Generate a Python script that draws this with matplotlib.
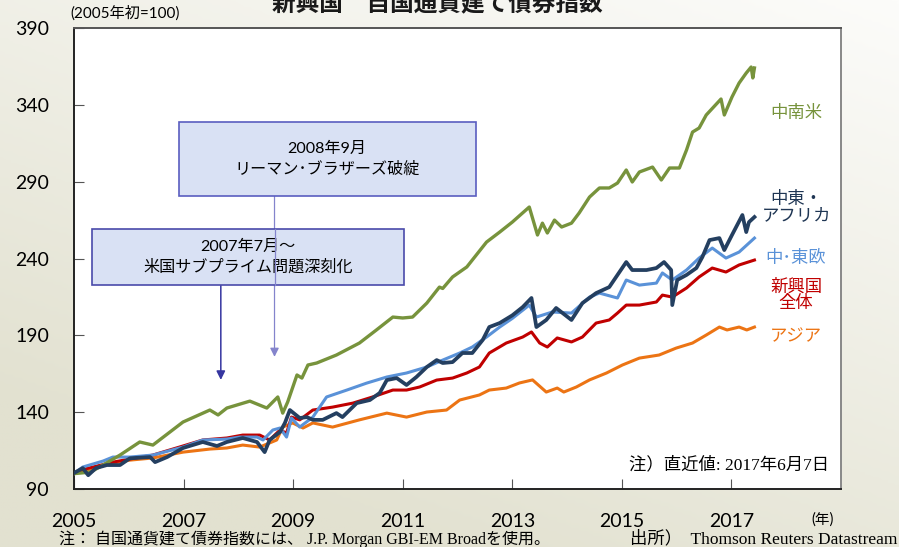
import numpy as np
import matplotlib
matplotlib.use("Agg")
import matplotlib.pyplot as plt
from matplotlib.patches import Rectangle
from matplotlib.colors import LinearSegmentedColormap

# index values (2005 start = 100)
latam_x = [2005.0, 2005.3, 2005.5, 2005.84, 2006.2, 2006.44, 2006.99, 2007.48, 2007.63, 2007.79,
           2008.21, 2008.52, 2008.72, 2008.81, 2008.9, 2009.07, 2009.16, 2009.27, 2009.43, 2009.79,
           2010.21, 2010.52, 2010.82, 2011.0, 2011.18, 2011.44, 2011.67, 2011.73, 2011.91, 2012.17,
           2012.53, 2012.77, 2013.0, 2013.31, 2013.46, 2013.55, 2013.64, 2013.77, 2013.9, 2014.08,
           2014.22, 2014.41, 2014.59, 2014.77, 2014.92, 2015.08, 2015.19, 2015.32, 2015.56, 2015.72,
           2015.87, 2016.05, 2016.18, 2016.29, 2016.41, 2016.54, 2016.81, 2016.87, 2017.01, 2017.14,
           2017.27, 2017.36, 2017.39, 2017.42]
latam_y = [100, 101, 105, 112.1, 120.6, 118.6, 133.6, 141.4, 138.2, 142.7,
           147.2, 142.7, 149.9, 139.4, 146.6, 164.2, 162.2, 170.7, 172, 177.2,
           185, 193.5, 201.9, 201.3, 201.9, 211, 221.4, 220.5, 228, 234.5,
           250.7, 257.2, 263.7, 273.5, 255.3, 263, 256.6, 265, 260.5, 263,
           269.6, 280, 285.9, 285.9, 289.1, 297.6, 289.8, 296.3, 299.5, 291.1,
           298.9, 298.9, 310.6, 322.3, 324.9, 333.4, 343.8, 333.4, 345.1, 354.2,
           360.7, 364.6, 357.5, 364]

mea_x = [2005.0, 2005.16, 2005.26, 2005.4, 2005.6, 2005.84, 2006.02, 2006.39, 2006.48, 2006.7,
         2006.99, 2007.35, 2007.61, 2007.79, 2008.08, 2008.34, 2008.48, 2008.57, 2008.76, 2008.85,
         2008.94, 2009.12, 2009.25, 2009.36, 2009.54, 2009.79, 2009.9, 2010.16, 2010.4, 2010.58,
         2010.71, 2010.89, 2011.07, 2011.25, 2011.44, 2011.62, 2011.73, 2011.91, 2012.09, 2012.27,
         2012.46, 2012.58, 2012.77, 2013.0, 2013.19, 2013.35, 2013.44, 2013.62, 2013.8, 2014.08,
         2014.28, 2014.53, 2014.77, 2014.92, 2015.08, 2015.19, 2015.45, 2015.63, 2015.77, 2015.9,
         2015.92, 2016.01, 2016.18, 2016.36, 2016.47, 2016.6, 2016.78, 2016.87, 2017.01, 2017.2,
         2017.27, 2017.32, 2017.42]
mea_y = [100.4, 103.6, 99, 103.6, 105.6, 105.6, 110, 110.8, 107.5, 110.8,
         116.7, 120.6, 118, 120.6, 123.2, 120.6, 114, 121.9, 127.1, 133,
         141.4, 136.2, 136.8, 135, 135, 139.4, 136.8, 145.9, 147.9, 152.5,
         160.9, 162.2, 157.7, 162.9, 169.4, 173.9, 172, 172.6, 178.5, 178.5,
         187, 195.4, 198, 203, 208.4, 214.3, 195.4, 200, 207.8, 200,
         211, 217.5, 221.4, 229.3, 237.7, 232.5, 232.5, 233.8, 237.7, 232.5,
         209.7, 226, 229.3, 233.8, 241, 252, 253.3, 245.5, 255.3, 268.3,
         257.2, 263.7, 267]

cee_x = [2005.0, 2005.16, 2005.53, 2005.71, 2006.02, 2006.44, 2006.99, 2007.35, 2007.79, 2008.03,
         2008.34, 2008.45, 2008.63, 2008.76, 2008.88, 2008.97, 2009.12, 2009.36, 2009.61, 2009.98,
         2010.34, 2010.71, 2011.07, 2011.44, 2011.73, 2012.04, 2012.27, 2012.53, 2012.77, 2013.0,
         2013.31, 2013.44, 2013.73, 2014.08, 2014.41, 2014.59, 2014.92, 2015.08, 2015.32, 2015.63,
         2015.74, 2015.92, 2016.18, 2016.41, 2016.65, 2016.9, 2017.14, 2017.42]
cee_y = [100, 104.3, 108.2, 110.8, 110.8, 112.1, 117.3, 121.9, 122.5, 123.8,
         123.8, 121.9, 128.4, 129.7, 123.8, 136.2, 130.3, 136.8, 149.9, 154.4,
         158.9, 162.9, 165.5, 169.4, 173.9, 178.5, 182.4, 188.9, 195.4, 201,
         209.7, 201.9, 205.2, 204.5, 214.9, 217.5, 214.3, 226, 222.7, 224,
         230.6, 226, 232.5, 240.3, 246.8, 240.3, 244.2, 253.3]

em_x = [2005.0, 2005.2, 2005.71, 2006.02, 2006.44, 2006.99, 2007.35, 2007.79, 2008.08, 2008.39,
        2008.57, 2008.76, 2008.88, 2008.97, 2009.12, 2009.36, 2009.72, 2010.09, 2010.45, 2010.82,
        2011.07, 2011.31, 2011.62, 2011.91, 2012.17, 2012.4, 2012.58, 2012.89, 2013.19, 2013.35,
        2013.5, 2013.64, 2013.82, 2014.08, 2014.28, 2014.53, 2014.77, 2014.92, 2015.08, 2015.32,
        2015.63, 2015.74, 2015.92, 2016.18, 2016.41, 2016.65, 2016.9, 2017.14, 2017.42]
em_y = [100, 103, 107.5, 109.5, 112.1, 118, 121.9, 123.2, 125.1, 125.1,
        121.9, 128.4, 126.4, 136.8, 135, 141.4, 143.3, 145.9, 149.9, 154.4,
        154.4, 156.4, 160.9, 162.2, 165.5, 169.4, 178.5, 185, 188.9, 192.2,
        185, 182.4, 188.3, 185.7, 188.9, 198, 200, 204.5, 209.7, 209.7,
        211.7, 216.2, 214.9, 220.8, 228, 233.8, 231.2, 235.8, 239]

asia_x = [2005.0, 2005.3, 2005.71, 2006.02, 2006.44, 2006.99, 2007.48, 2007.79, 2008.08, 2008.39,
          2008.7, 2008.81, 2008.99, 2009.18, 2009.36, 2009.72, 2010.21, 2010.71, 2011.07, 2011.44,
          2011.8, 2012.04, 2012.4, 2012.58, 2012.89, 2013.13, 2013.37, 2013.62, 2013.82, 2013.94,
          2014.17, 2014.41, 2014.72, 2015.01, 2015.32, 2015.68, 2015.99, 2016.29, 2016.54, 2016.78,
          2016.92, 2017.14, 2017.28, 2017.42]
asia_y = [100, 103, 106.9, 108.8, 110.2, 114, 116, 116.7, 118.6, 117.3,
          121.9, 130.3, 133, 129.7, 133, 130.3, 135, 139.4, 136.8, 140.1,
          141.4, 147.9, 151.2, 154.4, 155.7, 159, 161, 153.1, 155.7, 153.1,
          156.4, 161, 165.5, 170.7, 175.2, 177.2, 181.7, 185, 190.2, 195.4,
          193.5, 195.4, 193.5, 195.4]

year_ticks = [2005, 2007, 2009, 2011, 2013, 2015, 2017]
value_ticks = [90, 140, 190, 240, 290, 340, 390]

jp = ["Lato", "Noto Sans CJK JP"]
mixed = ["Liberation Serif", "Noto Sans CJK JP"]

fig = plt.figure(figsize=(8.99, 5.47), dpi=100)

# beige gradient background
bg = fig.add_axes([0, 0, 1, 1], zorder=-10)
xx, yy = np.meshgrid(np.linspace(0, 1, 200), np.linspace(0, 1, 200))
t = np.clip(0.75 * yy + 0.45 * (1 - xx), 0, 1)
cmap = LinearSegmentedColormap.from_list("bg", ["#fcfcfa", "#e2e1d0"])
bg.imshow(t, cmap=cmap, aspect="auto", extent=[0, 1, 0, 1], origin="upper")
bg.axis("off")

ax = fig.add_axes([0.0823, 0.106, 0.8532, 0.8428])
ax.set_facecolor("white")

ax.plot(asia_x, asia_y, color="#ec7414", lw=2.2, zorder=3)
ax.plot(em_x, em_y, color="#c00000", lw=2.2, zorder=4)
ax.plot(cee_x, cee_y, color="#5a92d8", lw=2.2, zorder=5)
ax.plot(latam_x, latam_y, color="#77933c", lw=2.4, zorder=5)
ax.plot(mea_x, mea_y, color="#243f60", lw=2.7, zorder=6)

ax.set_xlim(2005, 2019)
ax.set_ylim(90, 390)
ax.set_xticks(year_ticks)
ax.set_yticks(value_ticks)
ax.set_xticklabels([str(y) for y in year_ticks], family="Lato", fontsize=14)
ax.set_yticklabels([str(v) for v in value_ticks], family="Lato", fontsize=14)
ax.tick_params(axis="x", direction="in", length=7, pad=17, color="#555555")
ax.tick_params(axis="y", direction="in", length=7, pad=18, color="#555555")
for side in ax.spines:
    ax.spines[side].set_linewidth(1.4)
    ax.spines[side].set_color("#222222")
ax.spines["right"].set_color("#888888")
ax.spines["top"].set_color("#555555")

# event boxes
ax.add_patch(Rectangle((2006.91, 280.7), 5.42, 48.1, facecolor="#d9e1f4",
                       edgecolor="#5a5ec0", lw=1.2, zorder=7))
ax.text(2009.62, 304.7, "2008年9月\nリーマン･ブラザーズ破綻", ha="center", va="center",
        family=jp, fontsize=11.6, linespacing=1.45, zorder=8)
ax.add_patch(Rectangle((2005.33, 222.7), 5.70, 36.5, facecolor="#d9e1f4",
                       edgecolor="#4a4aaa", lw=1.2, zorder=7))
ax.text(2008.18, 241, "2007年7月～\n米国サブプライム問題深刻化", ha="center", va="center",
        family=jp, fontsize=11.6, linespacing=1.45, zorder=8)

ax.annotate("", xy=(2008.66, 176), xytext=(2008.66, 280.7),
            arrowprops=dict(arrowstyle="-|>", color="#8484cc", lw=0.9,
                            shrinkA=0, shrinkB=0, mutation_scale=13), zorder=6)
ax.plot([2008.66, 2008.66], [222.7, 259.2], color="#8484cc", lw=0.9, zorder=9)
ax.annotate("", xy=(2007.68, 161), xytext=(2007.68, 222.7),
            arrowprops=dict(arrowstyle="-|>", color="#3636a0", lw=1.1,
                            shrinkA=0, shrinkB=0, mutation_scale=13), zorder=6)

# series labels
lab_x = 2018.18
ax.text(lab_x, 334.7, "中南米", color="#77933c", family=jp, fontsize=12.5, ha="center", va="center")
ax.text(lab_x, 273.5, "中東・\nアフリカ", color="#1f3654", family=jp, fontsize=12.5,
        ha="center", va="center", linespacing=1.05)
ax.text(lab_x, 240.3, "中･東欧", color="#5a92d8", family=jp, fontsize=12.5, ha="center", va="center")
ax.text(lab_x, 216.2, "新興国\n全体", color="#c00000", family=jp, fontsize=12.5,
        ha="center", va="center", linespacing=1.0)
ax.text(lab_x, 189.6, "アジア", color="#ec7414", family=jp, fontsize=12.5, ha="center", va="center")

ax.text(0.985, 0.052, "注）直近値: 2017年6月7日", transform=ax.transAxes, ha="right",
        va="center", family=mixed, fontsize=12.5)

# figure texts
fig.text(0.487, 1 - 10 / 547, "新興国　自国通貨建て債券指数", ha="center", va="baseline",
         family=jp, fontsize=17, fontweight="bold", color="#1a1a1a")
fig.text(0.078, 1 - 13 / 547, "(2005年初=100)", ha="left", va="center", family=jp, fontsize=11)
fig.text(0.9155, 1 - 520 / 547, "(年)", ha="center", va="center", family=jp, fontsize=10.5)
fig.text(0.066, 1 - 539 / 547, "注： 自国通貨建て債券指数には、 J.P. Morgan GBI-EM Broadを使用。",
         ha="left", va="center", family=mixed, fontsize=11.5)
fig.text(0.998, 1 - 539 / 547, "出所）  Thomson Reuters Datastream",
         ha="right", va="center", family=mixed, fontsize=12.5)

fig.savefig("out.png", dpi=100)
